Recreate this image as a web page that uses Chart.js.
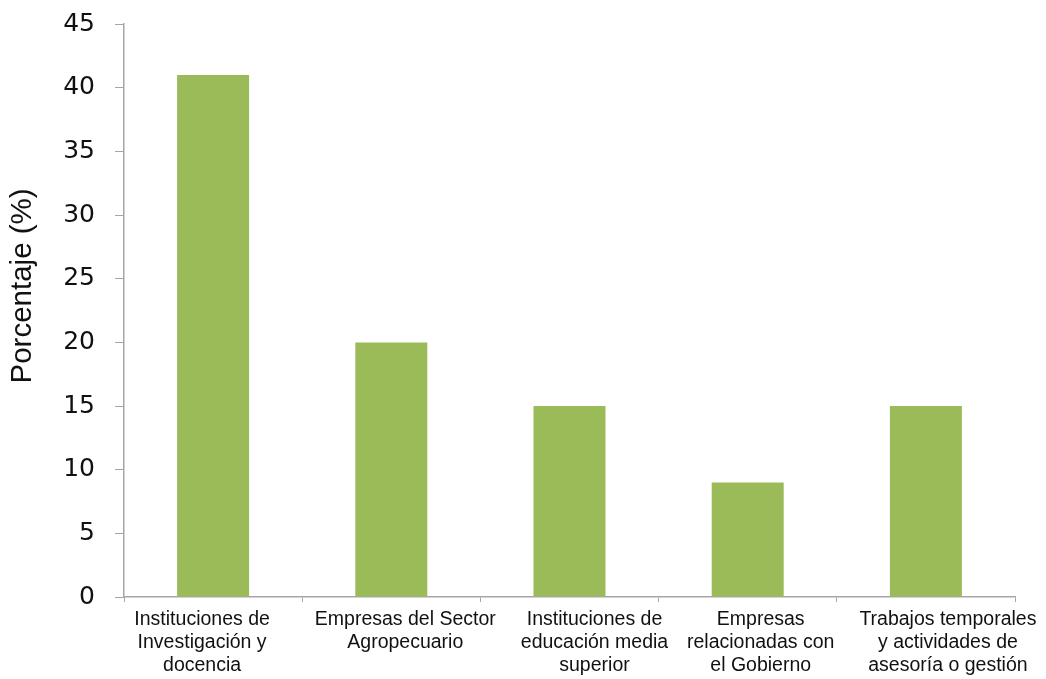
<!DOCTYPE html>
<html>
<head>
<meta charset="utf-8">
<script src="https://cdn.jsdelivr.net/npm/chart.js@4/dist/chart.umd.min.js"></script>
<style>
  html, body { margin: 0; padding: 0; background: #ffffff; }
  #wrap { width: 1046px; height: 679px; }
</style>
</head>
<body>
<div id="wrap"><canvas id="c" width="1046" height="679"></canvas></div>
<script>
// Categorías (etiquetas en varias líneas)
const categories = [
  ["Instituciones de", "Investigación y", "docencia"],
  ["Empresas del Sector", "Agropecuario"],
  ["Instituciones de", "educación media", "superior"],
  ["Empresas", "relacionadas con", "el Gobierno"],
  ["Trabajos temporales", "y actividades de", "asesoría o gestión"]
];
// Porcentaje de egresados por sector
const porcentajes = [41, 20, 15, 9, 15];
// Escala del eje Y
const yMin = 0;
const yMax = 45;
const yStep = 5;
const yTitle = "Porcentaje (%)";

const axisGray = "#a6a6a6";
const barGreen = "#9bbb59";
const textColor = "#111111";
const catFont = "19.5px 'Liberation Sans', Arial, sans-serif";
const titleFont = "29.5px 'Liberation Sans', Arial, sans-serif";
// desplazamiento horizontal de cada rótulo de categoría respecto a su barra (px)
const labelShift = [-11, 14, 25, 13, 22];

// Rótulos de categoría y título del eje Y dibujados sobre el lienzo
const rotulos = {
  id: "rotulos",
  afterDraw(chart) {
    const { ctx, scales: { x }, chartArea } = chart;
    ctx.save();
    ctx.fillStyle = textColor;
    ctx.textAlign = "center";
    ctx.textBaseline = "middle";
    ctx.font = catFont;
    categories.forEach((lines, i) => {
      const cx = x.getPixelForValue(i) + labelShift[i];
      lines.forEach((t, j) => ctx.fillText(t, cx, x.top + 23 + j * 23));
    });
    ctx.translate(23, chartArea.top + (chartArea.bottom - chartArea.top) * 0.457);
    ctx.rotate(-Math.PI / 2);
    ctx.font = titleFont;
    ctx.fillText(yTitle, 0, 0);
    ctx.restore();
  }
};

new Chart(document.getElementById("c"), {
  type: "bar",
  data: {
    labels: categories,
    datasets: [{
      data: porcentajes,
      backgroundColor: barGreen,
      borderWidth: 0,
      barPercentage: 0.404,
      categoryPercentage: 1.0
    }]
  },
  plugins: [rotulos],
  options: {
    responsive: false,
    animation: false,
    layout: { padding: { top: 0, right: 31, bottom: 0, left: 0 } },
    plugins: { legend: { display: false }, tooltip: { enabled: false } },
    scales: {
      x: {
        grid: { display: true, drawOnChartArea: false, color: axisGray, tickLength: 5, offset: true },
        border: { display: true, color: axisGray, width: 1.5 },
        ticks: { display: false },
        afterFit: (s) => { s.height = 82; }
      },
      y: {
        min: yMin,
        max: yMax,
        grid: { display: true, drawOnChartArea: false, color: axisGray, tickLength: 9 },
        border: { display: true, color: axisGray, width: 1.5 },
        ticks: {
          stepSize: yStep,
          color: textColor,
          padding: 20,
          font: { family: "'DejaVu Sans', Verdana, sans-serif", size: 25, lineHeight: 0.33 }
        },
        title: { display: false },
        afterFit: (s) => { s.width = 124; }
      }
    }
  }
});
</script>
</body>
</html>
